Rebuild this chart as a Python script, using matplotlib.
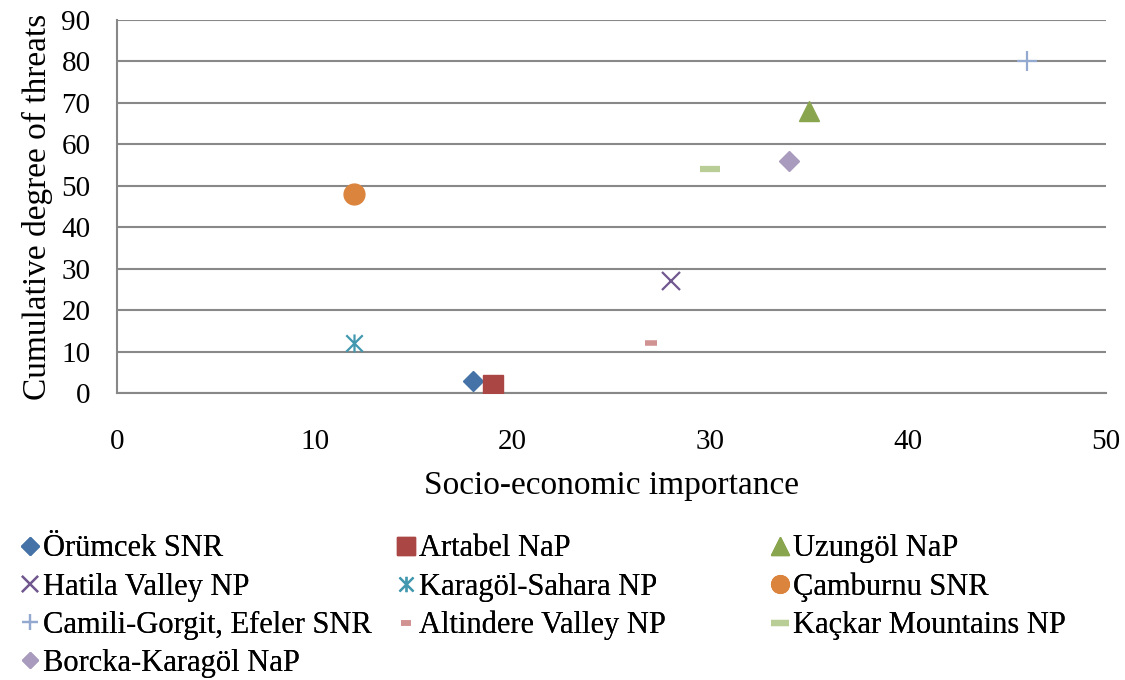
import matplotlib
matplotlib.use('Agg')
import matplotlib.pyplot as plt
from matplotlib.path import Path

plt.rcParams['font.family'] = ['Liberation Serif', 'DejaVu Serif']

# data
names = ['Örümcek SNR', 'Artabel NaP', 'Uzungöl NaP', 'Hatila Valley NP',
         'Karagöl-Sahara NP', 'Çamburnu SNR', 'Camili-Gorgit, Efeler SNR',
         'Altindere Valley NP', 'Kaçkar Mountains NP', 'Borcka-Karagöl NaP']
socio = [18, 19, 35, 28, 12, 12, 46, 27, 30, 34]
threats = [3, 2, 68, 27, 12, 48, 80, 12, 54, 56]

# excel style marker for "star": an x with a vertical bar
star = Path([(-1, -1), (1, 1), (-1, 1), (1, -1), (0, -1.1), (0, 1.1)],
            [Path.MOVETO, Path.LINETO, Path.MOVETO, Path.LINETO, Path.MOVETO, Path.LINETO])

styles = [
    dict(marker='D', color='#4572A7', ms=10.5),
    dict(marker='s', color='#AA4643', ms=14.5),
    dict(marker='^', color='#89A54E', ms=15),
    dict(marker='x', color='#71588F', ms=13, mew=1.6),
    dict(marker=star, color='#4198AF', ms=13, mew=1.6),
    dict(marker='o', color='#DB843D', ms=15),
    dict(marker='+', color='#93A9CF', ms=14, mew=1.6),
    dict(marker='_', color='#D19392', ms=8, mew=4),
    dict(marker='_', color='#B9CD96', ms=15, mew=4.5),
    dict(marker='D', color='#A99BBD', ms=10),
]

fig = plt.figure(figsize=(11.25, 6.8), dpi=100)
ax = fig.add_axes([0.104, 0.422, 0.879, 0.549])

handles = []
for i in range(len(names)):
    st = dict(styles[i])
    h, = ax.plot([socio[i]], [threats[i]], linestyle='none', zorder=3,
                 markeredgecolor=st['color'], label=names[i], **st)
    handles.append(h)

ax.set_xlim(0, 50)
ax.set_ylim(0, 90)
ax.set_xticks(range(0, 51, 10))
ax.set_yticks(range(0, 91, 10))
ax.grid(axis='y', color='#888888', linewidth=1.5)
ax.set_axisbelow(True)
for s in ['top', 'right']:
    ax.spines[s].set_visible(False)
for s in ['left', 'bottom']:
    ax.spines[s].set_color('#888888')
    ax.spines[s].set_linewidth(1.5)
ax.tick_params(axis='both', length=0, labelsize=21)
ax.tick_params(axis='x', pad=26)
ax.tick_params(axis='y', pad=19)
ax.set_xlabel('Socio-economic importance', fontsize=24, labelpad=11)
ax.set_ylabel('Cumulative degree of threats', fontsize=24, labelpad=6)

# legend in three equal-width columns, filled row by row
cols = [[0, 3, 6, 9], [1, 4, 7], [2, 5, 8]]
xs = [0.019, 0.353, 0.686]
for c in range(3):
    leg = fig.legend([handles[k] for k in cols[c]], [names[k] for k in cols[c]],
                     loc='upper left', bbox_to_anchor=(xs[c], 0.214), frameon=False,
                     fontsize=22, handlelength=0.55, handletextpad=0.15,
                     labelspacing=0.3, borderpad=0, borderaxespad=0, markerscale=0.85)
    fig.add_artist(leg)

fig.savefig('out.png', dpi=100)
